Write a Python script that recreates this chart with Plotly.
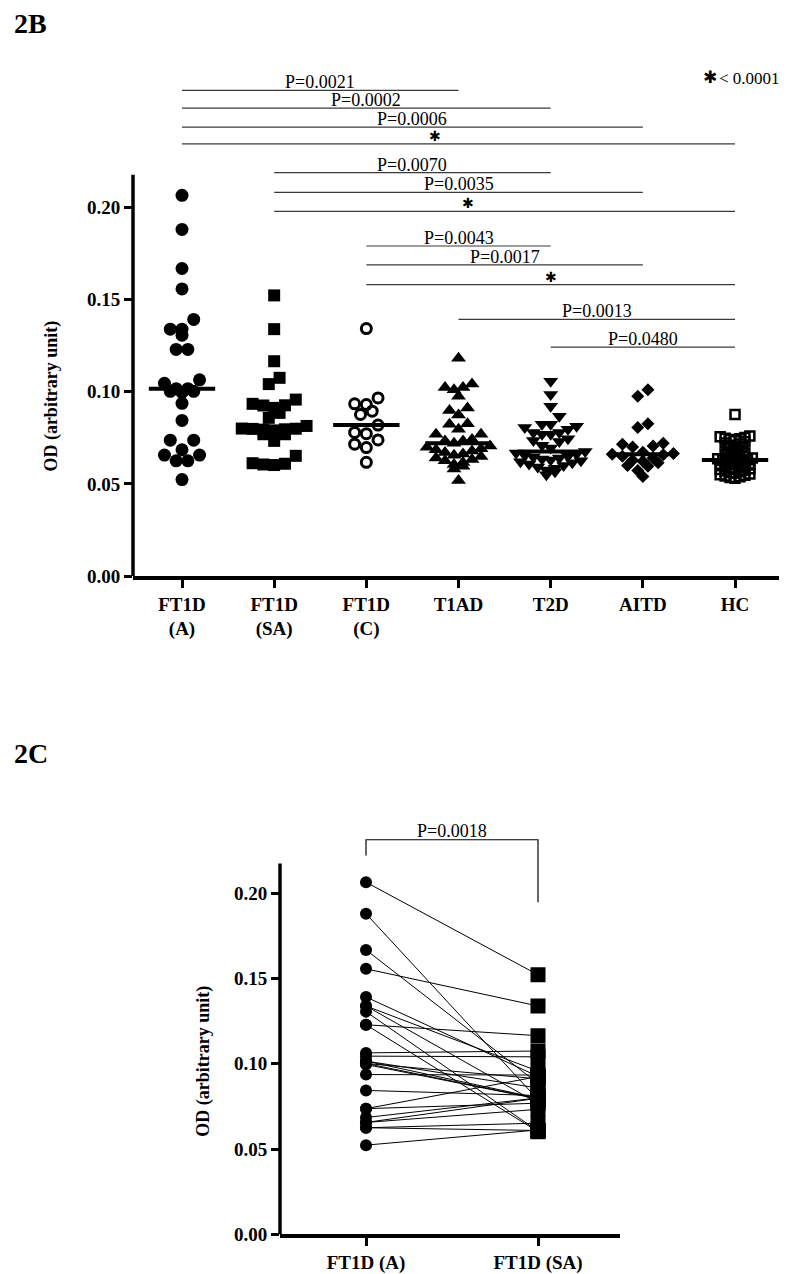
import numpy as np
import plotly.graph_objects as go

# ---------------- DATA ----------------
categories = ["FT1D<br>(A)", "FT1D<br>(SA)", "FT1D<br>(C)", "T1AD", "T2D", "AITD", "HC"]
y_ticks = [0.00, 0.05, 0.10, 0.15, 0.20]

# paired FT1D values (A and SA, same patient order)
ft1d_a = [0.2065, 0.1880, 0.1668, 0.1557, 0.1392, 0.1339, 0.1339, 0.1306, 0.1229,
          0.1229, 0.1064, 0.1045, 0.1016, 0.1002, 0.1016, 0.1002, 0.0996, 0.0937,
          0.0844, 0.0737, 0.0737, 0.0685, 0.0656, 0.0656, 0.0625, 0.0625, 0.0523]
ft1d_sa = [0.1522, 0.0790, 0.0885, 0.1339, 0.0926, 0.0957, 0.0769, 0.0605, 0.1165,
           0.0602, 0.1075, 0.1041, 0.0858, 0.0912, 0.0799, 0.0796, 0.0794, 0.0934,
           0.0814, 0.0925, 0.0769, 0.0800, 0.0733, 0.0798, 0.0652, 0.0609, 0.0612]
ft1d_c = [0.1342, 0.0966, 0.0934, 0.0930, 0.0894, 0.0876, 0.0819, 0.0779, 0.0772,
          0.0738, 0.0715, 0.0697, 0.0617]
t1ad = [0.1181, 0.1041, 0.1023, 0.1023, 0.1011, 0.0975, 0.0912, 0.0898, 0.0873,
        0.0826, 0.0823, 0.0796, 0.0769, 0.0769, 0.0740, 0.0733, 0.0733, 0.0720,
        0.0705, 0.0698, 0.0690, 0.0685, 0.0678, 0.0670, 0.0662, 0.0655, 0.0648,
        0.0640, 0.0632, 0.0625, 0.0616, 0.0605, 0.0595, 0.0580, 0.0518]
t2d = [0.1056, 0.0984, 0.0921, 0.0867, 0.0823, 0.0823, 0.0812, 0.0806, 0.0796,
       0.0778, 0.0778, 0.0769, 0.0769, 0.0745, 0.0735, 0.0730, 0.0710, 0.0695,
       0.0676, 0.0668, 0.0662, 0.0655, 0.0650, 0.0645, 0.0640, 0.0635, 0.0630,
       0.0625, 0.0620, 0.0614, 0.0608, 0.0600, 0.0592, 0.0585, 0.0575, 0.0565, 0.0550]
aitd = [0.1011, 0.0975, 0.0826, 0.0805, 0.0720, 0.0715, 0.0705, 0.0700, 0.0672,
        0.0665, 0.0660, 0.0658, 0.0650, 0.0640, 0.0628, 0.0622, 0.0615, 0.0600,
        0.0595, 0.0572, 0.0540]
hc = [0.0876, 0.0760, 0.0756, 0.0752, 0.0747, 0.0744, 0.0740, 0.0734, 0.0728,
      0.0722, 0.0716, 0.0710, 0.0704, 0.0698, 0.0690, 0.0683, 0.0675, 0.0668,
      0.0661, 0.0655, 0.0650, 0.0645, 0.0640, 0.0636, 0.0632, 0.0629, 0.0626,
      0.0622, 0.0618, 0.0614, 0.0610, 0.0606, 0.0602, 0.0598, 0.0594, 0.0590,
      0.0586, 0.0582, 0.0578, 0.0574, 0.0570, 0.0566, 0.0562, 0.0558, 0.0554,
      0.0550, 0.0546, 0.0542, 0.0538, 0.0534, 0.0530]

comparisons = [(0, 3, "P=0.0021"), (0, 4, "P=0.0002"), (0, 5, "P=0.0006"), (0, 6, "✱"),
               (1, 4, "P=0.0070"), (1, 5, "P=0.0035"), (1, 6, "✱"),
               (2, 4, "P=0.0043"), (2, 5, "P=0.0017"), (2, 6, "✱"),
               (3, 6, "P=0.0013"), (4, 6, "P=0.0480")]
paired_label = "P=0.0018"
pair_cats = ["FT1D (A)", "FT1D (SA)"]

# ---------------- LAYOUT CONSTANTS ----------------
W, H = 787, 1274
SERIF = "Liberation Serif"
bar_levels = [0.2634, 0.2538, 0.2435, 0.2344, 0.2188, 0.2081, 0.1978,
              0.1790, 0.1688, 0.1581, 0.1392, 0.1242]
label_x = {3: 2.75, 6: 3.1}   # asterisk label positions that are not centred

# top panel pixel geometry
t_left, t_right, t_zero = 125, 780, 573
t_ppu = 1860.0            # px per data unit
t_ppc = 92.17             # px per category
t_cat0 = 174
t_ymax = 0.275
t_xr = [(t_left - t_cat0) / t_ppc, (t_right - t_cat0) / t_ppc]

# bottom panel pixel geometry
b_left, b_right, b_zero = 272, 612, 1237
b_ppu = 1720.0
b_ppc = 172.0
b_cat0 = 358
b_ymax = 0.245
b_xr = [(b_left - b_cat0) / b_ppc, (b_right - b_cat0) / b_ppc]


def swarm(vals, size_px, step_frac=0.9, bin_frac=0.8, maxn=7):
    vals = np.asarray(vals, dtype=float)
    order = np.argsort(-vals, kind="stable")
    offsets = np.zeros(len(vals))
    bins, cur, top = [], [], None
    for idx in order:
        y = vals[idx] * t_ppu
        if cur and (top - y) < bin_frac * size_px and len(cur) < maxn:
            cur.append(idx)
        else:
            if cur:
                bins.append(cur)
            cur, top = [idx], y
    bins.append(cur)
    for b in bins:
        n = len(b)
        slots = [(j - (n - 1) / 2) * step_frac * size_px for j in range(n)]
        slots_sorted = sorted(slots, key=lambda s: (abs(s), s))
        b_sorted = sorted(b, key=lambda i: vals[i])
        for i, s in zip(b_sorted, slots_sorted):
            offsets[i] = s / t_ppc
    return offsets


fig = go.Figure()

groups = [
    (ft1d_a, dict(symbol="circle", size=13, color="black"), dict(size_px=13)),
    (ft1d_sa, dict(symbol="square", size=12, color="black"), dict(size_px=12)),
    (ft1d_c, dict(symbol="circle-open", size=10, color="black", line=dict(width=3, color="black")),
     dict(size_px=13)),
    (t1ad, dict(symbol="triangle-up", size=13, color="black"),
     dict(size_px=12, step_frac=0.75, maxn=9)),
    (t2d, dict(symbol="triangle-down", size=13, color="black"),
     dict(size_px=12, step_frac=0.72, maxn=9)),
    (aitd, dict(symbol="diamond", size=10, color="black"), dict(size_px=12, step_frac=0.85)),
    (hc, dict(symbol="square-open", size=9, color="black", line=dict(width=2.5, color="black")),
     dict(size_px=11, step_frac=0.45, bin_frac=0.45, maxn=12)),
]

shapes = []
for gi, (vals, mk, sw) in enumerate(groups):
    off = swarm(vals, **sw)
    fig.add_trace(go.Scatter(x=gi + off, y=vals, mode="markers", marker=mk,
                             xaxis="x", yaxis="y", showlegend=False, hoverinfo="y"))
    med = float(np.median(vals))
    shapes.append(dict(type="line", xref="x", yref="y", x0=gi - 0.36, x1=gi + 0.36,
                       y0=med, y1=med, line=dict(color="black", width=4)))

annotations = []
for k, ((i, j, lab), lvl) in enumerate(zip(comparisons, bar_levels)):
    shapes.append(dict(type="line", xref="x", yref="y", x0=i, x1=j, y0=lvl, y1=lvl,
                       line=dict(color="#3a3a3a", width=1.2)))
    xm = label_x.get(k, (i + j) / 2)
    if lab == "✱":
        annotations.append(dict(x=xm, y=lvl, xref="x", yref="y", text=lab, showarrow=False,
                                xanchor="center", yanchor="bottom", yshift=-2,
                                font=dict(family="DejaVu Sans", size=14, color="black")))
    else:
        annotations.append(dict(x=xm, y=lvl, xref="x", yref="y", text=lab, showarrow=False,
                                xanchor="center", yanchor="bottom", yshift=-4,
                                font=dict(family=SERIF, size=18, color="black")))

# top y-axis line (drawn only up to the data area)
shapes.append(dict(type="line", xref="paper", yref="y", x0=t_left / W, x1=t_left / W,
                   y0=-0.0015, y1=0.2177, line=dict(color="black", width=3.5)))

# legend for the asterisk
annotations.append(dict(x=702 / W, y=1 - 70 / H, xref="paper", yref="paper", text="✱",
                        showarrow=False, xanchor="center", yanchor="middle",
                        font=dict(family="DejaVu Sans", size=17, color="black")))
annotations.append(dict(x=709 / W, y=1 - 71 / H, xref="paper", yref="paper", text="&lt; 0.0001",
                        showarrow=False, xanchor="left", yanchor="middle",
                        font=dict(family=SERIF, size=17, color="black")))

# panel letters
annotations.append(dict(x=4 / W, y=1 - 16 / H, xref="paper", yref="paper", text="<b>2B</b>",
                        showarrow=False, xanchor="left", yanchor="middle",
                        font=dict(family=SERIF, size=28, color="black")))
annotations.append(dict(x=4 / W, y=1 - 752 / H, xref="paper", yref="paper", text="<b>2C</b>",
                        showarrow=False, xanchor="left", yanchor="middle",
                        font=dict(family=SERIF, size=28, color="black")))

# y-axis titles
annotations.append(dict(x=44 / W, y=1 - 392 / H, xref="paper", yref="paper",
                        text="<b>OD (arbitrary unit)</b>", textangle=-90, showarrow=False,
                        xanchor="center", yanchor="middle",
                        font=dict(family=SERIF, size=18, color="black")))
annotations.append(dict(x=196 / W, y=1 - 1063 / H, xref="paper", yref="paper",
                        text="<b>OD (arbitrary unit)</b>", textangle=-90, showarrow=False,
                        xanchor="center", yanchor="middle",
                        font=dict(family=SERIF, size=18, color="black")))

# ---------------- bottom paired panel ----------------
lx, ly = [], []
for a, s in zip(ft1d_a, ft1d_sa):
    lx += [0, 1, None]
    ly += [a, s, None]
fig.add_trace(go.Scatter(x=lx, y=ly, mode="lines", line=dict(color="black", width=1),
                         xaxis="x2", yaxis="y2", showlegend=False, hoverinfo="skip"))
fig.add_trace(go.Scatter(x=[0] * len(ft1d_a), y=ft1d_a, mode="markers",
                         marker=dict(symbol="circle", size=12, color="black"),
                         xaxis="x2", yaxis="y2", showlegend=False))
fig.add_trace(go.Scatter(x=[1] * len(ft1d_sa), y=ft1d_sa, mode="markers",
                         marker=dict(symbol="square", size=15, color="black"),
                         xaxis="x2", yaxis="y2", showlegend=False))

br_top, br_left, br_right = 0.2314, 0.2221, 0.1948
shapes.append(dict(type="path", xref="x2", yref="y2",
                   path=f"M 0,{br_left} L 0,{br_top} L 1,{br_top} L 1,{br_right}",
                   line=dict(color="black", width=1.2)))
annotations.append(dict(x=0.5, y=br_top, xref="x2", yref="y2", text=paired_label,
                        showarrow=False, xanchor="center", yanchor="bottom", yshift=-3,
                        font=dict(family=SERIF, size=18, color="black")))
shapes.append(dict(type="line", xref="paper", yref="y2", x0=b_left / W, x1=b_left / W,
                   y0=-0.0015, y1=0.2174, line=dict(color="black", width=3.5)))

tickfont = dict(family=SERIF, size=19, color="black", weight="bold")
ytxt = [f"{v:.2f}" for v in y_ticks]

fig.update_layout(
    width=W, height=H, margin=dict(l=0, r=0, t=0, b=0),
    paper_bgcolor="white", plot_bgcolor="white", showlegend=False,
    shapes=shapes, annotations=annotations,
    xaxis=dict(domain=[t_left / W, t_right / W], range=t_xr, anchor="y",
               tickvals=list(range(len(categories))), ticktext=categories,
               ticks="outside", ticklen=8, tickwidth=3, tickcolor="black",
               showline=True, linewidth=3.5, linecolor="black",
               showgrid=False, zeroline=False, tickfont=tickfont),
    yaxis=dict(domain=[1 - t_zero / H, 1 - (t_zero - t_ymax * t_ppu) / H], range=[0, t_ymax],
               anchor="x", tickvals=y_ticks, ticktext=ytxt,
               ticks="outside", ticklen=8, tickwidth=3, tickcolor="black",
               showline=False, showgrid=False, zeroline=False, tickfont=tickfont),
    xaxis2=dict(domain=[b_left / W, b_right / W], range=b_xr, anchor="y2",
                tickvals=[0, 1], ticktext=pair_cats,
                ticks="outside", ticklen=8, tickwidth=3, tickcolor="black",
                showline=True, linewidth=3.5, linecolor="black",
                showgrid=False, zeroline=False, tickfont=tickfont),
    yaxis2=dict(domain=[1 - b_zero / H, 1 - (b_zero - b_ymax * b_ppu) / H], range=[0, b_ymax],
                anchor="x2", tickvals=y_ticks, ticktext=ytxt,
                ticks="outside", ticklen=8, tickwidth=3, tickcolor="black",
                showline=False, showgrid=False, zeroline=False, tickfont=tickfont),
)

fig.write_html("out.html")
